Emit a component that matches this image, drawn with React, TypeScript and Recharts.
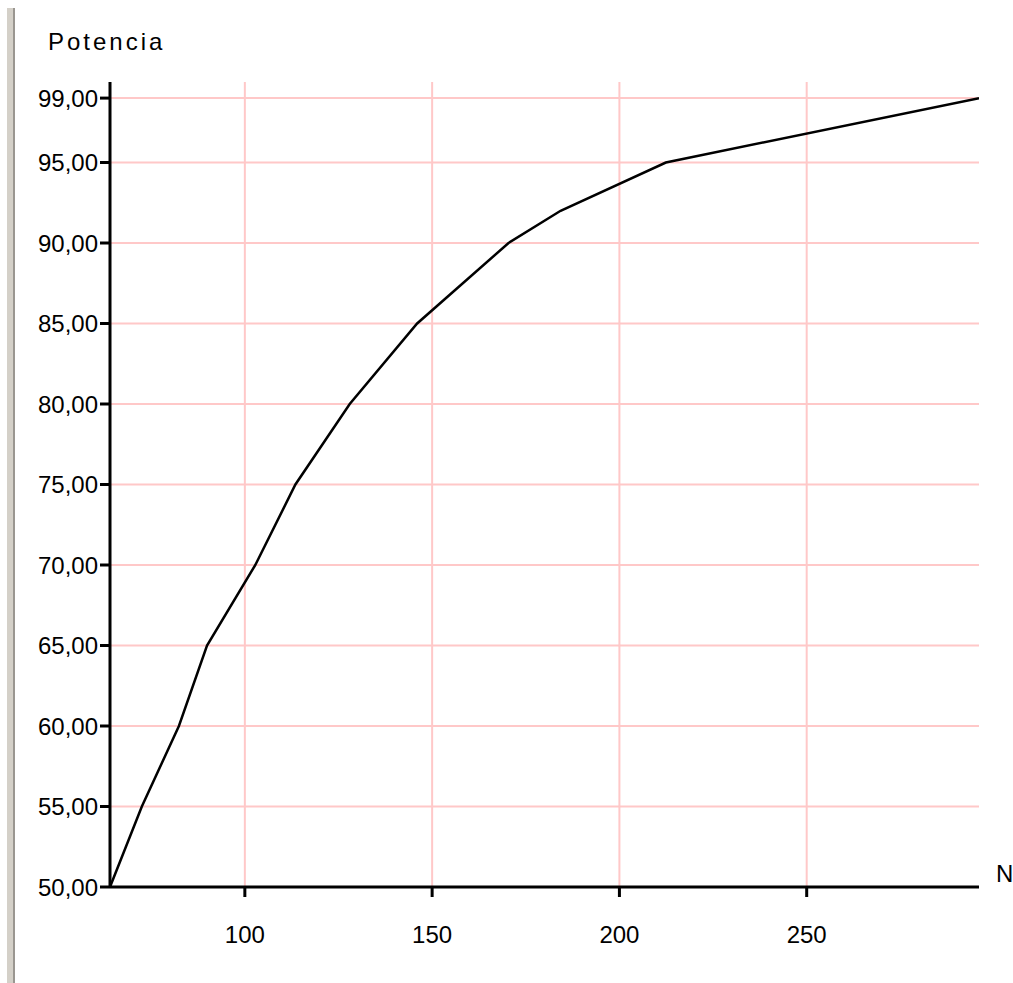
import React from "react";
import { LineChart, Line, XAxis, YAxis, CartesianGrid } from "recharts";

const nValues = [64, 72.5, 82.4, 89.9, 102.8, 113.5, 128, 146, 170.4, 184.3, 212.4, 296];
const powerValues = [50, 55, 60, 65, 70, 75, 80, 85, 90, 92, 95, 99];
const xTicks = [100, 150, 200, 250];
const yTicks = [50, 55, 60, 65, 70, 75, 80, 85, 90, 95, 99];

const data = nValues.map((n, i) => ({ n, power: powerValues[i] }));

const font = "'Liberation Sans', Arial, sans-serif";
const tickStyle = { fill: "#000", fontSize: 24, fontFamily: font };

const fmt = (v: number) => v.toFixed(2).replace(".", ",");

const App = () => {
  return (
    <div
      style={{
        position: "absolute",
        left: 0,
        top: 0,
        width: 1013,
        height: 983,
        background: "#fff",
      }}
    >
      {/* window frame edge */}
      <div
        style={{
          position: "absolute",
          left: 7,
          top: 8,
          width: 6,
          height: 975,
          background: "#d4d0c8",
          borderRight: "2px solid #9a9690",
        }}
      />
      <div
        style={{
          position: "absolute",
          left: 48,
          top: 30,
          fontFamily: font,
          fontSize: 24,
          lineHeight: "24px",
          letterSpacing: 3,
          color: "#000",
        }}
      >
        Potencia
      </div>
      <div
        style={{
          position: "absolute",
          left: 996,
          top: 862,
          fontFamily: font,
          fontSize: 24,
          lineHeight: "24px",
          color: "#000",
        }}
      >
        N
      </div>
      <LineChart
        width={1013}
        height={983}
        data={data}
        margin={{ top: 82, right: 34, bottom: 46, left: 0 }}
      >
        <CartesianGrid stroke="#ffc8c8" strokeWidth={2} syncWithTicks />
        <XAxis
          dataKey="n"
          type="number"
          domain={[64, 296]}
          ticks={xTicks}
          allowDataOverflow
          height={50}
          tickSize={10}
          tickMargin={29}
          tick={tickStyle}
          axisLine={{ stroke: "#000", strokeWidth: 3 }}
          tickLine={{ stroke: "#000", strokeWidth: 3 }}
        />
        <YAxis
          type="number"
          domain={[50, 100]}
          ticks={yTicks}
          width={110}
          tickSize={10}
          tickMargin={2}
          tickFormatter={fmt}
          tick={tickStyle}
          axisLine={{ stroke: "#000", strokeWidth: 3 }}
          tickLine={{ stroke: "#000", strokeWidth: 3 }}
        />
        <Line
          type="linear"
          dataKey="power"
          stroke="#000"
          strokeWidth={2.5}
          dot={false}
          isAnimationActive={false}
        />
      </LineChart>
    </div>
  );
};

export default App;
